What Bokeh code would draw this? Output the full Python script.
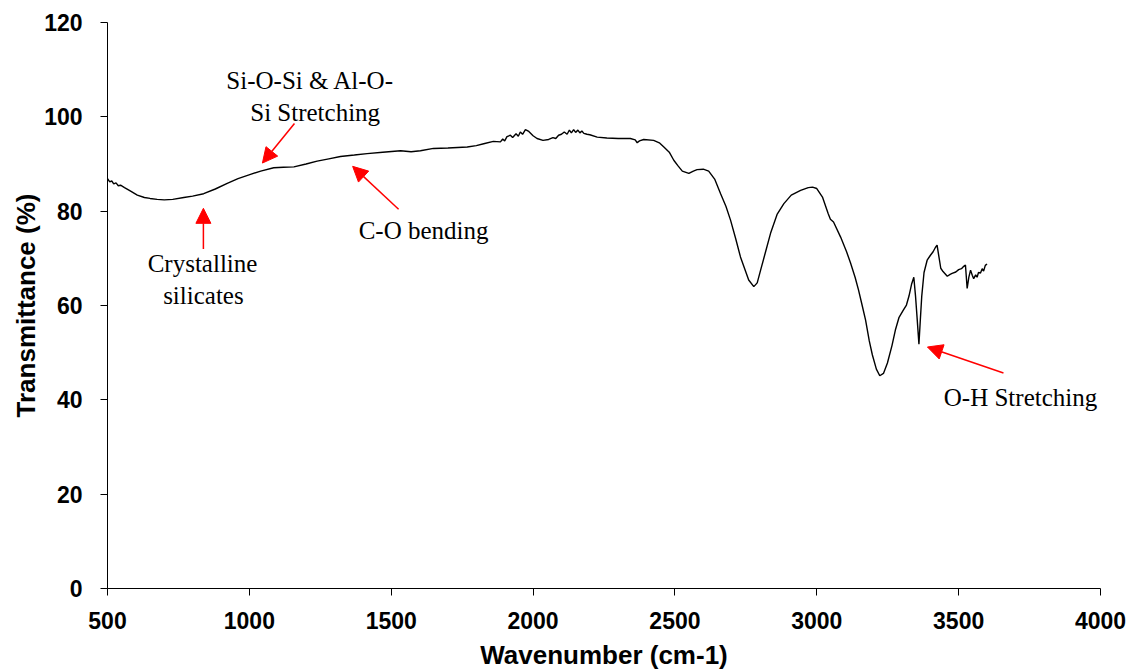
from bokeh.plotting import figure
from bokeh.models import Range1d, FixedTicker, Arrow, NormalHead, ColumnDataSource
from bokeh.core.properties import value
from bokeh.embed import file_html
from bokeh.resources import INLINE

# FTIR spectrum: wavenumber (cm-1) vs transmittance (%)
wavenumber = [
    500, 508, 515, 522, 530, 538, 546, 560, 580, 605, 630, 650, 675, 700, 730,
    769, 800, 839, 880, 922, 960, 1004, 1040, 1086, 1120, 1157, 1200, 1239,
    1280, 1321, 1370, 1415, 1470, 1533, 1570, 1603, 1649, 1700, 1768, 1800,
    1826, 1860, 1885, 1893, 1900, 1908, 1920, 1928, 1940, 1948, 1955, 1963,
    1973, 1985, 2000, 2014, 2035, 2055, 2070, 2080, 2090, 2100, 2110, 2120,
    2128, 2135, 2143, 2150, 2158, 2165, 2172, 2179, 2190, 2200, 2226, 2260,
    2300, 2343, 2360, 2367, 2375, 2390, 2425, 2445, 2461, 2480, 2496, 2511,
    2526, 2549, 2565, 2578, 2600, 2619, 2640, 2661, 2680, 2696, 2714, 2731,
    2760, 2778, 2790, 2802, 2820, 2837, 2860, 2884, 2910, 2943, 2970, 2985,
    3000, 3020, 3040, 3048, 3059, 3084, 3105, 3119, 3135, 3147, 3160, 3172,
    3185, 3196, 3210, 3222, 3235, 3249, 3265, 3277, 3290, 3305, 3316, 3325,
    3334, 3342, 3348, 3354, 3360, 3365, 3370, 3378, 3389, 3400, 3410, 3418,
    3424, 3430, 3437, 3445, 3460, 3470, 3477, 3490, 3500, 3510, 3518, 3524,
    3530, 3536, 3542, 3548, 3553, 3560, 3565, 3570, 3577, 3583, 3588, 3594,
    3600,
]
transmittance = [
    86.9, 86.2, 86.4, 85.8, 86.0, 85.4, 85.5, 85.0, 84.3, 83.4, 82.9, 82.7,
    82.5, 82.4, 82.5, 82.9, 83.2, 83.7, 84.7, 85.9, 86.9, 87.8, 88.5, 89.2,
    89.3, 89.4, 90.0, 90.6, 91.1, 91.6, 91.9, 92.2, 92.5, 92.8, 92.6, 92.8,
    93.3, 93.4, 93.6, 93.9, 94.3, 94.8, 94.7, 95.3, 94.9, 95.8, 96.1, 95.6,
    96.4, 95.9, 96.8, 96.3, 97.3, 96.9, 96.0, 95.4, 95.0, 95.2, 95.6, 95.4,
    96.1, 96.3, 96.8, 96.3, 97.2, 96.6, 97.3, 96.7, 97.2, 96.6, 97.0, 96.5,
    96.3, 96.2, 95.7, 95.5, 95.4, 95.4, 95.1, 94.5, 94.9, 95.2, 95.0, 94.5,
    93.6, 92.5, 90.8, 89.6, 88.5, 88.0, 88.5, 88.8, 88.9, 88.5, 86.8, 83.7,
    81.0, 78.1, 74.2, 70.3, 65.4, 64.0, 64.8, 67.5, 71.5, 75.3, 79.3, 81.6,
    83.4, 84.4, 85.0, 85.1, 84.8, 83.0, 79.5, 78.3, 77.7, 74.5, 71.4, 69.0,
    66.0, 63.3, 60.0, 56.9, 52.5, 49.5, 46.5, 45.1, 45.6, 47.8, 51.5, 54.8,
    57.5, 59.0, 60.1, 62.0, 64.5, 66.0, 62.0, 57.0, 51.8, 57.0, 62.0, 67.0,
    69.6, 70.6, 71.4, 72.3, 72.8, 70.5, 67.9, 67.2, 66.2, 66.6, 66.8, 67.1,
    67.6, 67.8, 68.3, 68.6, 63.6, 66.0, 67.5, 66.4, 65.7, 66.5, 66.0, 67.0,
    66.9, 67.8, 67.3, 68.5, 68.8,
]

x_ticks = [500, 1000, 1500, 2000, 2500, 3000, 3500, 4000]
y_ticks = [0, 20, 40, 60, 80, 100, 120]

# Band annotations: text lines and their anchor points
label_text = ["Si-O-Si & Al-O-", "Si Stretching", "C-O bending",
              "Crystalline", "silicates", "O-H Stretching"]
label_x = [1215, 1232, 1614, 835, 838, 3718]
label_y = [107.7, 101.0, 76.0, 69.0, 62.2, 40.4]

# Arrows pointing from each label to its band (tail -> head)
arrow_x_start = [1159, 1526, 838, 3658]
arrow_y_start = [98.6, 80.4, 72.0, 45.7]
arrow_x_end = [1046, 1364, 838, 3390]
arrow_y_end = [90.2, 89.5, 80.6, 51.2]

p = figure(width=1139, height=672, output_backend="svg", toolbar_location=None,
           x_range=Range1d(500, 4000), y_range=Range1d(0, 120),
           min_border_left=107, min_border_right=39,
           min_border_top=22, min_border_bottom=83)
p.outline_line_color = None
p.background_fill_color = "white"
p.border_fill_color = "white"
p.xgrid.visible = False
p.ygrid.visible = False

p.line(wavenumber, transmittance, line_color="black", line_width=1.4)

for ax, ticks in ((p.xaxis, x_ticks), (p.yaxis, y_ticks)):
    ax.ticker = FixedTicker(ticks=ticks)
    ax.minor_tick_line_color = None
    ax.major_tick_in = 0
    ax.major_tick_out = 7
    ax.axis_line_color = "black"
    ax.major_tick_line_color = "black"
    ax.major_label_text_font = "Liberation Sans"
    ax.major_label_text_font_style = "bold"
    ax.major_label_text_font_size = "23px"
    ax.major_label_text_color = "black"
    ax.axis_label_text_font = "Liberation Sans"
    ax.axis_label_text_font_style = "bold"
    ax.axis_label_text_font_size = "26px"
    ax.axis_label_text_color = "black"

p.xaxis.axis_label = "Wavenumber (cm-1)"
p.yaxis.axis_label = "Transmittance (%)"
p.xaxis.major_label_standoff = 16
p.yaxis.major_label_standoff = 18
p.xaxis.axis_label_standoff = 8
p.yaxis.axis_label_standoff = 0

src = ColumnDataSource(dict(x=label_x, y=label_y, t=label_text))
p.text(x="x", y="y", text="t", source=src, text_font=value("Liberation Serif"),
       text_font_size="25px", text_color="black", text_align="center",
       text_baseline="middle")

for xs, ys, xe, ye in zip(arrow_x_start, arrow_y_start, arrow_x_end, arrow_y_end):
    p.add_layout(Arrow(x_start=xs, y_start=ys, x_end=xe, y_end=ye,
                       line_color="red", line_width=1.5,
                       end=NormalHead(size=15, fill_color="red", line_color="red")))

open("out.html", "w").write(file_html(p, INLINE))
